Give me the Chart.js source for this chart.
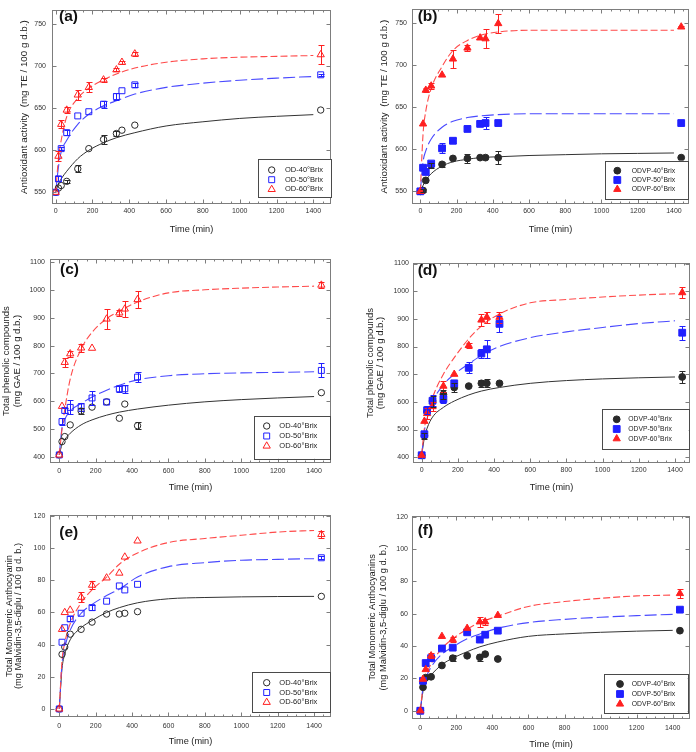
<!DOCTYPE html>
<html><head><meta charset="utf-8">
<script src="https://cdn.jsdelivr.net/npm/chart.js@4.4.1/dist/chart.umd.min.js"></script>
<style>
html,body{margin:0;padding:0;background:#fff;}
#wrap{position:relative;width:696px;height:752px;overflow:hidden;}
#wrap canvas{position:absolute;}
</style></head><body><div id="wrap"></div>
<script>
// ---------- shared axes / times ----------
const TIME = [0, 15, 30, 60, 120, 180, 260, 330, 360, 430, 1440];
const FIT_TIME = [0, 15, 30, 60, 120, 180, 260, 330, 430, 600, 800, 1000, 1200, 1400];
const X_TICKS = [0, 200, 400, 600, 800, 1000, 1200, 1400];
const Y_TICKS_AO = [550, 600, 650, 700, 750];
const Y_TICKS_TPC = [400, 500, 600, 700, 800, 900, 1000, 1100];
const Y_TICKS_TMA = [0, 20, 40, 60, 80, 100, 120];
const NAMES_OD = ['OD-40°Brix', 'OD-50°Brix', 'OD-60°Brix'];
const NAMES_ODVP = ['ODVP-40°Brix', 'ODVP-50°Brix', 'ODVP-60°Brix'];

// ---------- (a) antioxidant activity, OD ----------
const A_40 = [550, 555, 558, 563, 578, 602, 613, 620, 624, 630, 648];
const A_40_ERR = [0, 0, 0, 2, 4, 0, 5, 3, 0, 0, 0];
const A_50 = [550, 566, 602, 621, 641, 646, 655, 664, 671, 678, 690];
const A_50_ERR = [0, 3, 2, 3, 0, 0, 4, 4, 0, 2, 1];
const A_60 = [550, 593, 631, 648, 666, 675, 684, 696, 705, 715, 714];
const A_60_ERR = [0, 6, 5, 4, 6, 6, 2, 2, 2, 2, 11];
const A_FIT40 = [550, 560, 566, 575, 590, 600, 609, 615, 621, 629, 634, 638, 640.5, 642.5];
const A_FIT50 = [550, 580, 598, 612, 631, 643, 653, 659, 667, 675, 680, 683.5, 686, 688];
const A_FIT60 = [550, 590, 612, 640, 662, 674, 684, 691, 698, 705, 709, 711, 712, 713];

// ---------- (b) antioxidant activity, ODVP ----------
const B_40 = [550, 551, 563, 581, 582, 589, 589, 590, 590, 590, 590];
const B_40_ERR = [0, 2, 0, 3, 3, 0, 5, 0, 0, 8, 0];
const B_50 = [550, 578, 573, 583, 601, 610, 624, 630, 631, 631, 631];
const B_50_ERR = [0, 0, 0, 2, 6, 3, 2, 0, 7, 2, 2];
const B_60 = [550, 630, 670, 675, 688, 707, 720, 732, 731, 749, 745];
const B_60_ERR = [0, 0, 2, 4, 0, 11, 3, 0, 11, 11, 1];
const B_FIT40 = [550, 557, 563, 571, 580, 585, 588, 590, 591, 592.5, 593.5, 594.5, 595, 595.5];
const B_FIT50 = [550, 585, 598, 612, 626, 633, 637.5, 639.5, 641, 642, 642, 642, 642, 642];
const B_FIT60 = [550, 618, 645, 672, 698, 717, 729, 735, 739, 741, 741, 741, 741, 741];

// ---------- (c) total phenolic compounds, OD ----------
const C_40 = [407, 455, 473, 515, 565, 579, 598, 539, 590, 512, 631];
const C_40_ERR = [0, 0, 0, 0, 12, 0, 0, 0, 0, 12, 0];
const C_50 = [407, 527, 567, 578, 580, 612, 597, 645, 645, 687, 711];
const C_50_ERR = [0, 12, 10, 25, 15, 25, 0, 10, 15, 18, 25];
const C_60 = [407, 582, 740, 771, 792, 791, 896, 918, 932, 966, 1018];
const C_60_ERR = [0, 0, 15, 10, 15, 0, 37, 12, 30, 30, 12];
const C_FIT40 = [407, 445, 462, 485, 515, 533, 550, 561, 572, 586, 598, 606, 612, 617];
const C_FIT50 = [407, 505, 535, 565, 592, 615, 640, 658, 677, 692, 699, 702, 704, 706];
const C_FIT60 = [407, 500, 570, 680, 788, 848, 897, 924, 957, 990, 1001, 1007, 1011, 1014];

// ---------- (d) total phenolic compounds, ODVP ----------
const D_40 = [407, 477, 565, 603, 627, 652, 657, 667, 667, 667, 690];
const D_40_ERR = [0, 10, 0, 20, 15, 15, 0, 12, 15, 0, 20];
const D_50 = [407, 483, 570, 604, 610, 667, 723, 775, 790, 882, 850];
const D_50_ERR = [0, 10, 15, 20, 15, 0, 20, 15, 33, 30, 25];
const D_60 = [407, 530, 558, 583, 657, 700, 804, 896, 906, 906, 995];
const D_60_ERR = [0, 0, 20, 15, 20, 0, 8, 20, 20, 20, 20];
const D_FIT40 = [407, 470, 505, 545, 580, 603, 625, 639, 652, 667, 677, 683, 687, 690];
const D_FIT50 = [407, 495, 540, 600, 662, 700, 737, 768, 800, 832, 853, 869, 883, 893];
const D_FIT60 = [407, 505, 545, 615, 700, 760, 828, 874, 918, 958, 970, 979, 986, 991];

// ---------- (e) total monomeric anthocyanin, OD ----------
const E_40 = [0, 34, 38.5, 46.5, 49.5, 54, 59, 59, 59.5, 60.5, 70];
const E_40_ERR = [0, 0, 0, 0, 0, 0, 0, 0, 0, 0, 0];
const E_50 = [0, 41.5, 50.5, 56, 59.5, 63, 67, 76.5, 74, 77.5, 94];
const E_50_ERR = [0, 0, 0, 1.5, 0, 1.5, 0, 0, 0, 0, 1];
const E_60 = [0, 49.5, 60, 61.5, 69.5, 77, 81.5, 84.5, 94.5, 104.5, 108.5];
const E_60_ERR = [0, 0, 0, 0, 3, 2.5, 0, 0, 0, 0, 2];
const E_FIT40 = [0, 25, 34, 43, 50.5, 55, 60, 63, 66, 68.5, 69.3, 69.7, 69.9, 70];
const E_FIT50 = [0, 28, 38, 49, 59.5, 65, 70.5, 74.5, 82, 88.5, 91, 92.5, 93, 93.5];
const E_FIT60 = [0, 30, 41, 53, 66, 74, 82, 90, 97, 103.5, 106, 108, 110, 111];

// ---------- (f) total monomeric anthocyanins, ODVP ----------
const F_40 = [0, 14.5, 20.5, 21, 28, 32.5, 34, 33, 35, 32, 49.5];
const F_40_ERR = [0, 0, 0, 0, 0, 2, 0, 2, 0, 0, 0];
const F_50 = [0, 18.5, 29.5, 32.5, 38.5, 39, 48.5, 44, 47, 49.5, 62.5];
const F_50_ERR = [0, 0, 0, 0, 0, 0, 0, 0, 0, 0, 0];
const F_60 = [0, 19.5, 25.5, 34, 46, 44, 51, 55, 55, 59, 72.5];
const F_60_ERR = [0, 0, 0, 1.5, 0, 1.5, 0, 3, 2, 0, 2.5];
const F_FIT40 = [0, 12, 17, 22, 28.5, 32.5, 36.5, 39.5, 42.5, 46, 47.5, 48.5, 49.2, 49.7];
const F_FIT50 = [0, 14, 20, 27, 35, 39.5, 44.5, 47.5, 51, 54.5, 56.5, 57.8, 58.8, 59.6];
const F_FIT60 = [0, 14.5, 21, 29, 38.5, 44.5, 50.5, 54.5, 58.5, 64.5, 67.5, 69.5, 71, 71.5];

// ---------- styling ----------
const FONT = '"Liberation Sans", Arial, Helvetica, sans-serif';
const FRAME_COLOR = '#7d7d7d';
const C_BLACK = '#2a2a2a', C_BLUE = '#2020ff', C_RED = '#ff2020';
const L_BLACK = '#333333', L_BLUE = '#4a4aff', L_RED = '#ff4a4a';

// ---------- panel layout ----------
const PANELS = [
  { key: 'a', label: '(a)', filled: false, names: NAMES_OD, yTicks: Y_TICKS_AO,
    s: [A_40, A_50, A_60], e: [A_40_ERR, A_50_ERR, A_60_ERR], f: [A_FIT40, A_FIT50, A_FIT60],
    box: [0, 0, 348, 250], area: [52, 4, 331, 204], xr: [-20, 1496], yr: [536, 767],
    yTitle: 'Antioxidant activity  (mg TE / 100 g d.b.)', yTitleSize: 9.8, yTitleLH: 1.2, yTitlePad: 18.6,
    xTitlePad: 15.2, xTickPad: 2.5, yTickPad: 6, labelPos: [59, 21.3],
    legend: { x: 258, y: 159, w: 73, h: 38, mx: 271.7, tx: 285, r0: 170, dr: 9.7, size: 7.5 } },
  { key: 'b', label: '(b)', filled: true, names: NAMES_ODVP, yTicks: Y_TICKS_AO,
    s: [B_40, B_50, B_60], e: [B_40_ERR, B_50_ERR, B_60_ERR], f: [B_FIT40, B_FIT50, B_FIT60],
    box: [348, 0, 348, 250], area: [412, 5, 689, 204], xr: [-46, 1483], yr: [535, 766],
    yTitle: 'Antioxidant activity  (mg TE / 100 g d.b.)', yTitleSize: 9.8, yTitleLH: 1.2, yTitlePad: 30.1,
    xTitlePad: 15.2, xTickPad: 2.5, yTickPad: 5, labelPos: [417.7, 21.3],
    legend: { x: 605, y: 160.7, w: 83, h: 37.5, mx: 617.3, tx: 631.7, r0: 170.7, dr: 9.3, size: 6.8 } },
  { key: 'c', label: '(c)', filled: false, names: NAMES_OD, yTicks: Y_TICKS_TPC,
    s: [C_40, C_50, C_60], e: [C_40_ERR, C_50_ERR, C_60_ERR], f: [C_FIT40, C_FIT50, C_FIT60],
    box: [0, 250, 348, 252], area: [50, 257, 331, 463], xr: [-51, 1493], yr: [378, 1111],
    yTitle: ['Total phenolic compounds', '(mg GAE / 100 g d.b.)'], yTitleSize: 9.5, yTitleLH: 1.1, yTitlePad: 1.3,
    xTitlePad: 9.2, xTickPad: 3.5, yTickPad: 5, labelPos: [60, 274],
    legend: { x: 254, y: 415.7, w: 76, h: 43, mx: 266.7, tx: 279.3, r0: 426, dr: 10, size: 7.5 } },
  { key: 'd', label: '(d)', filled: true, names: NAMES_ODVP, yTicks: Y_TICKS_TPC,
    s: [D_40, D_50, D_60], e: [D_40_ERR, D_50_ERR, D_60_ERR], f: [D_FIT40, D_FIT50, D_FIT60],
    box: [348, 250, 348, 252], area: [413, 263, 690, 463], xr: [-48, 1483], yr: [379, 1102],
    yTitle: ['Total phenolic compounds', '(mg GAE / 100 g d.b.)'], yTitleSize: 9.5, yTitleLH: 1.1, yTitlePad: 16.8,
    xTitlePad: 9.2, xTickPad: 2.8, yTickPad: 4, labelPos: [417.7, 274.5],
    legend: { x: 601.7, y: 409.3, w: 87, h: 39.7, mx: 616.7, tx: 628.3, r0: 419.3, dr: 9.7, size: 6.8 } },
  { key: 'e', label: '(e)', filled: false, names: NAMES_OD, yTicks: Y_TICKS_TMA,
    s: [E_40, E_50, E_60], e: [E_40_ERR, E_50_ERR, E_60_ERR], f: [E_FIT40, E_FIT50, E_FIT60],
    box: [0, 502, 348, 250], area: [50, 515, 331, 717], xr: [-51, 1493], yr: [-5, 120.6],
    yTitle: ['Total Monomeric Anthocyanin', '(mg Malvidin-3,5-diglu / 100 g d. b.)'], yTitleSize: 9.3, yTitleLH: 1.0, yTitlePad: 4.6,
    xTitlePad: 5.5, xTickPad: 4.5, yTickPad: 4.7, labelPos: [59.3, 536.5],
    legend: { x: 252.3, y: 672.3, w: 78, h: 40, mx: 266.7, tx: 279.3, r0: 682.7, dr: 9.8, size: 7.5 } },
  { key: 'f', label: '(f)', filled: true, names: NAMES_ODVP, yTicks: Y_TICKS_TMA,
    s: [F_40, F_50, F_60], e: [F_40_ERR, F_50_ERR, F_60_ERR], f: [F_FIT40, F_FIT50, F_FIT60],
    box: [348, 502, 348, 250], area: [412, 516, 692, 719], xr: [-46, 1497], yr: [-5.1, 120.4],
    yTitle: ['Total Monomeric Anthocyanins', '(mg Malvidin-3,5-diglu / 100 g d. b.)'], yTitleSize: 9.3, yTitleLH: 1.15, yTitlePad: 19,
    xTitlePad: 2.2, xTickPad: 4.5, yTickPad: 4, labelPos: [417.7, 535],
    legend: { x: 604, y: 674, w: 83.7, h: 39.3, mx: 620, tx: 631.7, r0: 684, dr: 10, size: 6.8 } }
];

function scatterDS(name, vals, errs, color, style, r, filled) {
  return {
    type: 'scatter', label: name,
    data: TIME.map((t, i) => ({ x: t, y: vals[i] })),
    errors: errs,
    pointStyle: style, pointRadius: r, pointHoverRadius: r,
    borderColor: color, backgroundColor: filled ? color : 'rgba(0,0,0,0)',
    pointBorderWidth: 1, borderWidth: 1, showLine: false
  };
}
function fitDS(vals, color, dash, w) {
  return {
    type: 'line', label: '',
    data: FIT_TIME.map((t, i) => ({ x: t, y: vals[i] })),
    borderColor: color, borderWidth: w, borderDash: dash,
    pointRadius: 0, pointHoverRadius: 0, cubicInterpolationMode: 'monotone', fill: false
  };
}

function drawMarker(ctx, ds, x, y) {
  ctx.save();
  ctx.fillStyle = ds.backgroundColor; ctx.strokeStyle = ds.borderColor; ctx.lineWidth = 1;
  if (Chart.helpers && Chart.helpers.drawPoint) {
    Chart.helpers.drawPoint(ctx, { pointStyle: ds.pointStyle, radius: ds.pointRadius, borderWidth: 1, rotation: 0 }, x, y);
  }
  ctx.restore();
}

function makeDecor(P) {
  const ox = P.box[0], oy = P.box[1];
  return {
    id: 'decor_' + P.key,
    afterDatasetsDraw(chart) {
      const { ctx, scales: { x, y } } = chart;
      ctx.save();
      ctx.lineWidth = 1;
      chart.data.datasets.forEach(ds => {
        if (!ds.errors) return;
        ctx.strokeStyle = ds.borderColor;
        ds.data.forEach((p, i) => {
          const e = ds.errors[i];
          if (!e) return;
          const px = Math.round(x.getPixelForValue(p.x)) + 0.5;
          const y1 = Math.round(y.getPixelForValue(p.y + e)) + 0.5;
          const y2 = Math.round(y.getPixelForValue(p.y - e)) + 0.5;
          ctx.beginPath();
          ctx.moveTo(px, y1); ctx.lineTo(px, y2);
          ctx.moveTo(px - 3, y1); ctx.lineTo(px + 3, y1);
          ctx.moveTo(px - 3, y2); ctx.lineTo(px + 3, y2);
          ctx.stroke();
        });
      });
      ctx.restore();
    },
    afterDraw(chart) {
      const { ctx, chartArea: a, scales: { x, y } } = chart;
      ctx.save();
      ctx.strokeStyle = FRAME_COLOR; ctx.lineWidth = 1;
      const L = Math.round(a.left) + 0.5, R = Math.round(a.right) - 0.5;
      const T = Math.round(a.top) + 0.5, B = Math.round(a.bottom) - 0.5;
      ctx.strokeRect(L, T, R - L, B - T);
      ctx.beginPath();
      for (let v = 0; v <= x.max; v += 50) {
        const px = Math.round(x.getPixelForValue(v)) + 0.5;
        const len = v % 200 === 0 ? 4 : 2;
        ctx.moveTo(px, B); ctx.lineTo(px, B - len);
        ctx.moveTo(px, T); ctx.lineTo(px, T + len);
      }
      P.yTicks.forEach(v => {
        const py = Math.round(y.getPixelForValue(v)) + 0.5;
        ctx.moveTo(L, py); ctx.lineTo(L + 4, py);
        ctx.moveTo(R, py); ctx.lineTo(R - 4, py);
      });
      ctx.stroke();
      // panel letter
      ctx.fillStyle = '#111';
      ctx.font = 'bold 15.5px ' + FONT;
      ctx.textAlign = 'left'; ctx.textBaseline = 'alphabetic';
      ctx.fillText(P.label, P.labelPos[0] - ox, P.labelPos[1] - oy);
      // legend
      const lg = P.legend;
      ctx.fillStyle = '#fff';
      ctx.fillRect(lg.x - ox, lg.y - oy, lg.w, lg.h);
      ctx.strokeStyle = '#4a4a4a';
      ctx.strokeRect(Math.round(lg.x - ox) + 0.5, Math.round(lg.y - oy) + 0.5, Math.round(lg.w), Math.round(lg.h));
      const order = [2, 1, 0]; // datasets: 0=60,1=50,2=40
      order.forEach((di, row) => {
        const ds = chart.data.datasets[di];
        const yy = lg.r0 + row * lg.dr - oy;
        drawMarker(ctx, ds, lg.mx - ox, yy);
        ctx.fillStyle = '#222';
        ctx.font = lg.size + 'px ' + FONT;
        ctx.textAlign = 'left'; ctx.textBaseline = 'middle';
        ctx.fillText(P.names[row], lg.tx - ox, yy);
      });
      ctx.restore();
    }
  };
}

const plainTick = v => String(v);
const wrap = document.getElementById('wrap');
PANELS.forEach(P => {
  const [bx, by, bw, bh] = P.box;
  const [al, at, ar, ab] = P.area;
  const cv = document.createElement('canvas');
  cv.width = bw; cv.height = bh;
  cv.style.left = bx + 'px'; cv.style.top = by + 'px';
  cv.style.width = bw + 'px'; cv.style.height = bh + 'px';
  wrap.appendChild(cv);
  const f = P.filled;
  const datasets = [
    scatterDS(P.names[2], P.s[2], P.e[2], C_RED, 'triangle', f ? 4.2 : 4.2, f),
    scatterDS(P.names[1], P.s[1], P.e[1], C_BLUE, 'rect', f ? 4.8 : 4.2, f),
    scatterDS(P.names[0], P.s[0], P.e[0], C_BLACK, 'circle', f ? 3.4 : 3.2, f),
    fitDS(P.f[2], L_RED, [7, 3], 1.1),
    fitDS(P.f[1], L_BLUE, [12, 4], 1.1),
    fitDS(P.f[0], L_BLACK, [], 1.0)
  ];
  new Chart(cv, {
    type: 'scatter',
    data: { datasets },
    options: {
      responsive: false, animation: false, devicePixelRatio: 1,
      layout: { padding: { left: 0, top: at - by, right: bx + bw - ar, bottom: 0 } },
      plugins: { legend: { display: false }, tooltip: { enabled: false } },
      scales: {
        x: {
          type: 'linear', position: 'bottom', min: P.xr[0], max: P.xr[1],
          afterBuildTicks: s => { s.ticks = X_TICKS.map(v => ({ value: v })); },
          afterFit: s => { s.height = by + bh - ab; },
          grid: { display: false, drawTicks: false }, border: { display: false },
          ticks: { padding: P.xTickPad, color: '#333', font: { family: FONT, size: 7 }, maxRotation: 0, autoSkip: false, callback: plainTick },
          title: { display: true, text: 'Time (min)', color: '#222', font: { family: FONT, size: 9.2, lineHeight: 1.2 }, padding: { top: 0, bottom: P.xTitlePad } }
        },
        y: {
          type: 'linear', position: 'left', min: P.yr[0], max: P.yr[1],
          afterBuildTicks: s => { s.ticks = P.yTicks.map(v => ({ value: v })); },
          afterFit: s => { s.width = al - bx; },
          grid: { display: false, drawTicks: false }, border: { display: false },
          ticks: { padding: P.yTickPad, color: '#333', font: { family: FONT, size: 7 }, autoSkip: false, callback: plainTick },
          title: { display: true, text: P.yTitle, color: '#222', font: { family: FONT, size: P.yTitleSize, lineHeight: P.yTitleLH }, padding: { top: P.yTitlePad, bottom: 0 } }
        }
      }
    },
    plugins: [makeDecor(P)]
  });
});
</script>
</body></html>
